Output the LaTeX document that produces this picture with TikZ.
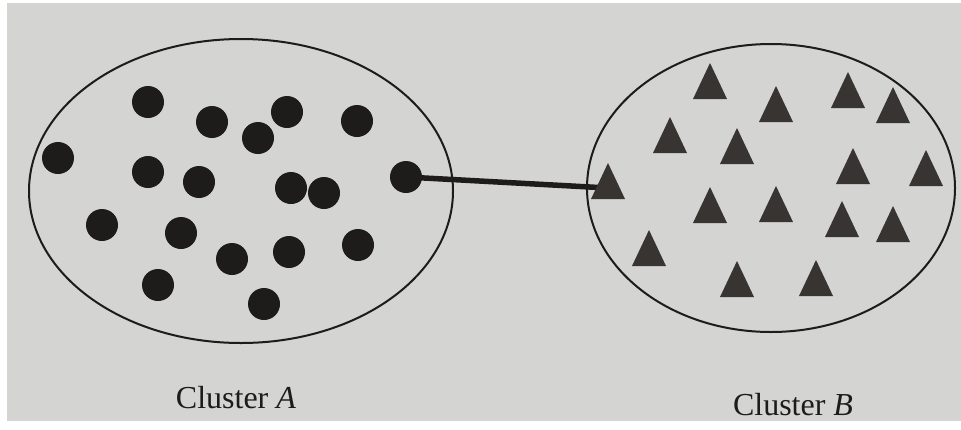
\documentclass[tikz,border=0pt]{standalone}
\usepackage{fontspec}
\setmainfont{Liberation Serif}
\usetikzlibrary{shapes.geometric}
\definecolor{paper}{RGB}{212,212,210}
\definecolor{ink}{RGB}{30,27,27}
\definecolor{triink}{RGB}{55,52,50}
\tikzset{
  cluster/.style={ellipse, draw=ink, line width=2pt, inner sep=0pt},
  dotnode/.style={circle, fill=ink, minimum size=32pt, inner sep=0pt},
  tri/.style={fill=triink},
  label/.style={font=\fontsize{32}{38}\selectfont, text=ink, anchor=base, inner sep=0pt},
  link/.style={draw=ink, line width=5.5pt}
}
\begin{document}
\begin{tikzpicture}[x=1pt,y=-1pt]
\useasboundingbox (0,0) rectangle (961,429);
\fill[white] (0,0) rectangle (961,429);
\fill[paper] (7,3) rectangle (961,421);
% clusters
\node[cluster, minimum width=424pt, minimum height=304pt] (clA) at (241,191) {};
\node[cluster, minimum width=368pt, minimum height=288pt] (clB) at (771,188) {};
% dots of cluster A
\foreach \x/\y [count=\i] in {148/102,212/122,287/112,258/138,357/121,58/158,148/172,199/182,291/188,324/193,406/177,102/225,181/233,232/259,289/252,358/245,158/285,264/304}
  \node[dotnode] (d\i) at (\x,\y) {};
% triangle centre used by the connector
\coordinate (t9) at (608,188);
% connector
\draw[link] (d11.center) -- (t9);
% triangles
\foreach \x/\y [count=\i] in {710/81,776/104,848/90,893/105,670/135,737/146,853/166,926/168,608/181,710/205,776/204,842/219,893/224,649/248,737/279,816/278}
  \fill[tri] (\x,\y-18) -- (\x-17,\y+18) -- (\x+17,\y+18) -- cycle;
% labels
\node[label] (labA) at (236,408) {Cluster \textit{A}};
\node[label] (labB) at (793,415) {Cluster \textit{B}};
\end{tikzpicture}
\end{document}
